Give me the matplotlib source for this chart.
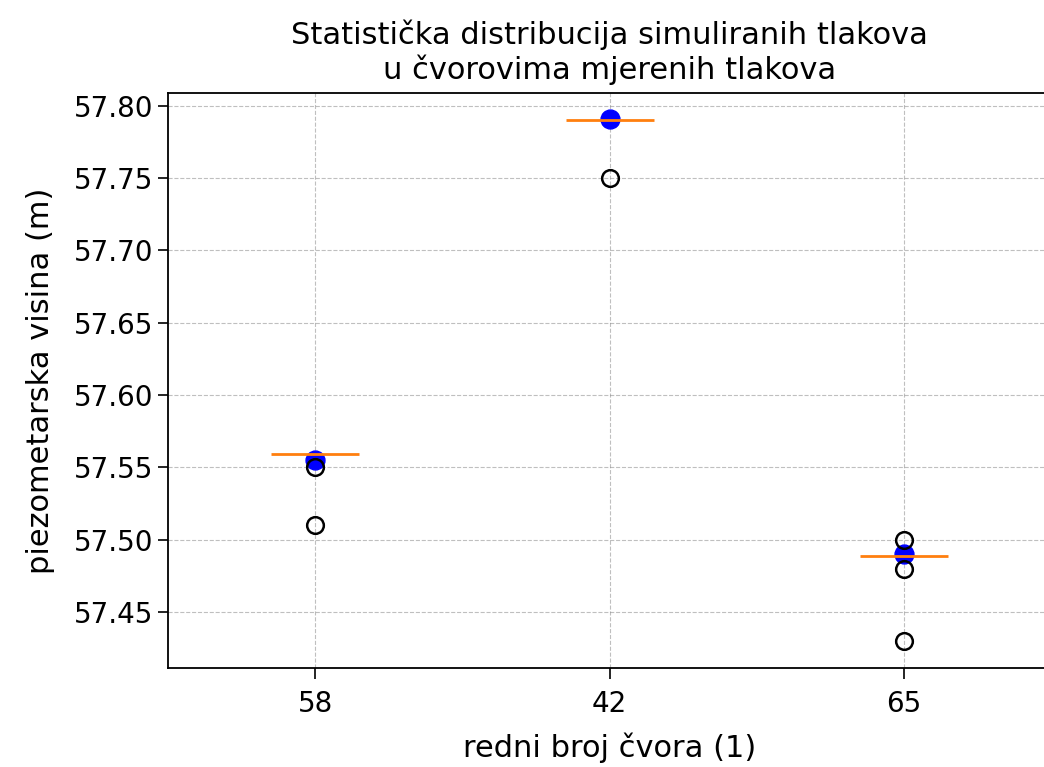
import numpy as np
import matplotlib
matplotlib.use('Agg')
import matplotlib.pyplot as plt

# chvorovi i vrijednosti
nodes = ['58', '42', '65']
medians = [57.559, 57.790, 57.489]
fliers = [[57.550, 57.510],
          [57.750],
          [57.500, 57.480, 57.430]]
measured = [57.555, 57.791, 57.490]

fig = plt.figure(figsize=(10.44, 7.67), dpi=100)
ax = fig.add_axes([0.161, 0.129, 0.846, 0.750])

pos = np.arange(1, len(nodes) + 1)

# izmjereni tlakovi
ax.scatter(pos, measured, s=185, color='blue', zorder=2)

stats = []
for i in range(len(nodes)):
    m = medians[i]
    stats.append({'med': m, 'q1': m, 'q3': m, 'whislo': m, 'whishi': m,
                  'fliers': fliers[i], 'label': nodes[i]})

ax.bxp(stats, positions=pos, widths=0.3, manage_ticks=True,
       medianprops=dict(color='tab:orange', linewidth=2.0),
       flierprops=dict(marker='o', markersize=12, markerfacecolor='none',
                       markeredgecolor='black', markeredgewidth=1.8),
       boxprops=dict(linewidth=0), whiskerprops=dict(linewidth=0),
       capprops=dict(linewidth=0))

ax.set_xlim(0.5, 3.5)
ax.set_ylim(57.4113, 57.809)
ax.set_yticks([57.45, 57.50, 57.55, 57.60, 57.65, 57.70, 57.75, 57.80])
ax.set_yticklabels(['57.45', '57.50', '57.55', '57.60', '57.65', '57.70', '57.75', '57.80'])
ax.tick_params(labelsize=20, length=7, width=1.2)
ax.tick_params(axis='x', length=8, pad=8)
ax.grid(True, linestyle='--', color='gray', alpha=0.5, linewidth=0.8)
ax.set_axisbelow(True)

for s in ax.spines.values():
    s.set_linewidth(1.3)

ax.set_title('Statistička distribucija simuliranih tlakova\nu čvorovima mjerenih tlakova',
             fontsize=22, pad=10)
ax.set_xlabel('redni broj čvora (1)', fontsize=22, labelpad=10)
ax.set_ylabel('piezometarska visina (m)', fontsize=22, labelpad=14)

fig.savefig('out.png', dpi=100)
